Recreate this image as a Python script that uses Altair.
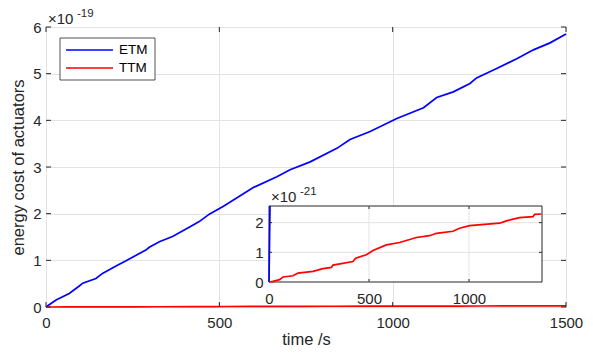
import altair as alt
import pandas as pd

# ---------------- data ----------------
series_names = ["ETM", "TTM"]
series_colors = ["#0000ff", "#ff0000"]

# ETM, in units of 1e-19
etm_t = [0, 5, 29, 67, 96, 106, 144, 163, 202, 231, 260, 288, 298, 327, 365, 413, 442, 471,
         512, 598, 666, 704, 762, 839, 877, 935, 1012, 1089, 1127, 1175, 1223, 1242, 1300,
         1358, 1406, 1454, 1500]
etm_v = [0, 0.027, 0.15, 0.29, 0.45, 0.51, 0.61, 0.72, 0.88, 0.99, 1.11, 1.22, 1.28, 1.40,
         1.51, 1.71, 1.83, 1.99, 2.16, 2.56, 2.79, 2.94, 3.11, 3.40, 3.59, 3.76, 4.04, 4.27,
         4.49, 4.61, 4.79, 4.91, 5.11, 5.32, 5.51, 5.66, 5.85]

# TTM, in units of 1e-21
ttm_t = [0, 20, 53, 70, 120, 145, 220, 270, 312, 320, 420, 433, 487, 520, 587, 653, 737, 803,
         837, 920, 953, 1003, 1153, 1187, 1253, 1320, 1328, 1362, 1500]
ttm_v = [0, 0.02, 0.08, 0.17, 0.21, 0.30, 0.36, 0.45, 0.49, 0.57, 0.69, 0.80, 0.92, 1.06,
         1.25, 1.33, 1.50, 1.56, 1.64, 1.71, 1.81, 1.90, 1.98, 2.06, 2.17, 2.20, 2.28, 2.29,
         2.40]

x_ticks = [0, 500, 1000, 1500]
y_ticks = [0, 1, 2, 3, 4, 5, 6]
inset_x_ticks = [0, 500, 1000]
inset_y_ticks = [0, 1, 2]
main_xlim = [0, 1500]
main_ylim = [0, 6]
inset_xlim = [0, 1365]
inset_ylim = [0, 2.56]

x_title = "time /s"
y_title = "energy cost of actuators"
main_exp = ["×10", "-19"]
inset_exp = ["×10", "-21"]

# ---------------- layout / style ----------------
W, H = 520, 280
INSET_X = [223, 496]     # pixel range of inset inside the main view
INSET_Y = [255, 179]
FONT = "Liberation Sans"
AX = "#262626"
GRID = "#e3e3e3"
LW = 1.7
TICK = 5

main_df = pd.concat([
    pd.DataFrame({"series": "ETM", "t": etm_t, "v": etm_v}),
    pd.DataFrame({"series": "TTM", "t": ttm_t, "v": [v / 100 for v in ttm_v]}),
])

xs = alt.Scale(domain=main_xlim, nice=False, zero=False)
ys = alt.Scale(domain=main_ylim, nice=False, zero=False)
cs = alt.Scale(domain=series_names, range=series_colors)

main_lines = alt.Chart(main_df).mark_line(strokeWidth=LW).encode(
    x=alt.X("t:Q", scale=xs, axis=alt.Axis(
        orient="bottom", values=x_ticks, title=x_title, grid=True, gridColor=GRID,
        ticks=False, tickSize=0, domain=False, labelPadding=8, labelFlush=False,
        labelOverlap=False, titleBaseline="alphabetic", titleY=37,
        labelFontSize=15, titleFontSize=16.5, labelFont=FONT, titleFont=FONT,
        labelColor=AX, titleColor=AX, titleFontWeight="normal", format="d")),
    y=alt.Y("v:Q", scale=ys, axis=alt.Axis(
        orient="left", values=y_ticks, title=y_title, grid=True, gridColor=GRID,
        ticks=False, tickSize=0, domain=False, labelPadding=5, titlePadding=6,
        labelFlush=False, labelOverlap=False,
        labelFontSize=15, titleFontSize=16.5, labelFont=FONT, titleFont=FONT,
        labelColor=AX, titleColor=AX, titleFontWeight="normal", format="d")),
    color=alt.Color("series:N", scale=cs, legend=None),
)

xt = pd.DataFrame({"t": x_ticks})
yt = pd.DataFrame({"v": y_ticks})
tick_layers = [
    alt.Chart(xt).mark_rule(color=AX, strokeWidth=1).encode(
        x=alt.X("t:Q", scale=xs, axis=None), y=alt.value(H), y2=alt.value(H - TICK)),
    alt.Chart(xt).mark_rule(color=AX, strokeWidth=1).encode(
        x=alt.X("t:Q", scale=xs, axis=None), y=alt.value(0), y2=alt.value(TICK)),
    alt.Chart(yt).mark_rule(color=AX, strokeWidth=1).encode(
        y=alt.Y("v:Q", scale=ys, axis=None), x=alt.value(0), x2=alt.value(TICK)),
    alt.Chart(yt).mark_rule(color=AX, strokeWidth=1).encode(
        y=alt.Y("v:Q", scale=ys, axis=None), x=alt.value(W), x2=alt.value(W - TICK)),
]

# legend (drawn by hand, MATLAB style box)
leg_df = pd.DataFrame({"series": series_names, "color": series_colors})
legend_layers = [
    alt.Chart(leg_df.iloc[:1]).mark_rect(fill="white", stroke=AX, strokeWidth=0.8).encode(
        x=alt.value(14), x2=alt.value(109), y=alt.value(11), y2=alt.value(53))
]
for i, (name, col) in enumerate(zip(series_names, series_colors)):
    yy = 23 + 18 * i
    row = leg_df.iloc[i:i + 1]
    legend_layers.append(alt.Chart(row).mark_rule(color=col, strokeWidth=LW).encode(
        x=alt.value(20), x2=alt.value(67), y=alt.value(yy)))
    legend_layers.append(alt.Chart(row).mark_text(
        align="left", baseline="middle", font=FONT, fontSize=13.5, color="black").encode(
        x=alt.value(73), y=alt.value(yy), text="series:N"))


def exponent(texts, x, y, dy=7):
    d = pd.DataFrame({"a": [texts[0]], "b": [texts[1]]})
    return [
        alt.Chart(d).mark_text(align="left", baseline="alphabetic", font=FONT,
                               fontSize=15, color=AX).encode(
            x=alt.value(x), y=alt.value(y), text="a:N"),
        alt.Chart(d).mark_text(align="left", baseline="alphabetic", font=FONT,
                               fontSize=11.5, color=AX).encode(
            x=alt.value(x + 29), y=alt.value(y - dy), text="b:N"),
    ]


# ---------------- inset ----------------
ixs = alt.Scale(domain=inset_xlim, range=INSET_X, nice=False, zero=False)
iys = alt.Scale(domain=inset_ylim, range=INSET_Y, nice=False, zero=False, clamp=True)

box_df = pd.DataFrame({"x0": [inset_xlim[0]], "x1": [inset_xlim[1]],
                       "y0": [inset_ylim[0]], "y1": [inset_ylim[1]]})
inset_box = alt.Chart(box_df).mark_rect(fill="white", stroke=AX, strokeWidth=1).encode(
    x=alt.X("x0:Q", scale=ixs, axis=alt.Axis(
        orient="bottom", offset=-(H - INSET_Y[0]), values=inset_x_ticks, title=None,
        grid=False, ticks=False, tickSize=0, domain=False, labelPadding=9,
        labelFlush=False, labelOverlap=False,
        labelFontSize=15, labelFont=FONT, labelColor=AX, format="d")),
    x2="x1:Q",
    y=alt.Y("y0:Q", scale=iys, axis=alt.Axis(
        orient="left", offset=-INSET_X[0], values=inset_y_ticks, title=None,
        grid=False, ticks=False, tickSize=0, domain=False, labelPadding=6,
        labelFlush=False, labelOverlap=False,
        labelFontSize=15, labelFont=FONT, labelColor=AX, format="d")),
    y2="y1:Q",
)

igx = pd.DataFrame({"t": inset_x_ticks[1:], "lo": inset_ylim[0], "hi": inset_ylim[1]})
igy = pd.DataFrame({"v": inset_y_ticks[1:], "lo": inset_xlim[0], "hi": inset_xlim[1]})
inset_grid = [
    alt.Chart(igx).mark_rule(color=GRID, strokeWidth=1).encode(
        x=alt.X("t:Q", scale=ixs, axis=None), y=alt.Y("lo:Q", scale=iys, axis=None), y2="hi:Q"),
    alt.Chart(igy).mark_rule(color=GRID, strokeWidth=1).encode(
        y=alt.Y("v:Q", scale=iys, axis=None), x=alt.X("lo:Q", scale=ixs, axis=None), x2="hi:Q"),
]
ITK = 3
inset_ticks = [
    alt.Chart(igx).mark_rule(color=AX).encode(
        x=alt.X("t:Q", scale=ixs, axis=None), y=alt.value(INSET_Y[0]), y2=alt.value(INSET_Y[0] - ITK)),
    alt.Chart(igx).mark_rule(color=AX).encode(
        x=alt.X("t:Q", scale=ixs, axis=None), y=alt.value(INSET_Y[1]), y2=alt.value(INSET_Y[1] + ITK)),
    alt.Chart(igy).mark_rule(color=AX).encode(
        y=alt.Y("v:Q", scale=iys, axis=None), x=alt.value(INSET_X[0]), x2=alt.value(INSET_X[0] + ITK)),
    alt.Chart(igy).mark_rule(color=AX).encode(
        y=alt.Y("v:Q", scale=iys, axis=None), x=alt.value(INSET_X[1]), x2=alt.value(INSET_X[1] - ITK)),
]

inset_df = pd.concat([
    pd.DataFrame({"series": "ETM", "t": etm_t, "v": [v * 100 for v in etm_v]}),
    pd.DataFrame({"series": "TTM", "t": ttm_t, "v": ttm_v}),
])
inset_df = inset_df[((inset_df.series == "ETM") & (inset_df.t <= 5)) |
                    ((inset_df.series == "TTM") & (inset_df.t <= inset_xlim[1]))]
inset_lines = alt.Chart(inset_df).mark_line(strokeWidth=LW).encode(
    x=alt.X("t:Q", scale=ixs, axis=None),
    y=alt.Y("v:Q", scale=iys, axis=None),
    color=alt.Color("series:N", scale=cs, legend=None),
)

layers = [main_lines, *tick_layers, *legend_layers, *exponent(main_exp, 2, -3, 7),
          inset_box, *inset_grid, inset_lines, *inset_ticks,
          *exponent(inset_exp, INSET_X[0] + 2, INSET_Y[1] - 4, 7)]

chart = alt.layer(*layers).resolve_scale(
    x="independent", y="independent"
).resolve_axis(
    x="independent", y="independent"
).properties(
    width=W, height=H,
    padding={"left": 38, "top": 19, "right": 19, "bottom": 39},
    autosize=alt.AutoSizeParams(type="none"),
).configure_view(stroke=AX, strokeWidth=1).configure(background="white")

chart.save("out.html", embed_options={"renderer": "svg", "actions": False})
